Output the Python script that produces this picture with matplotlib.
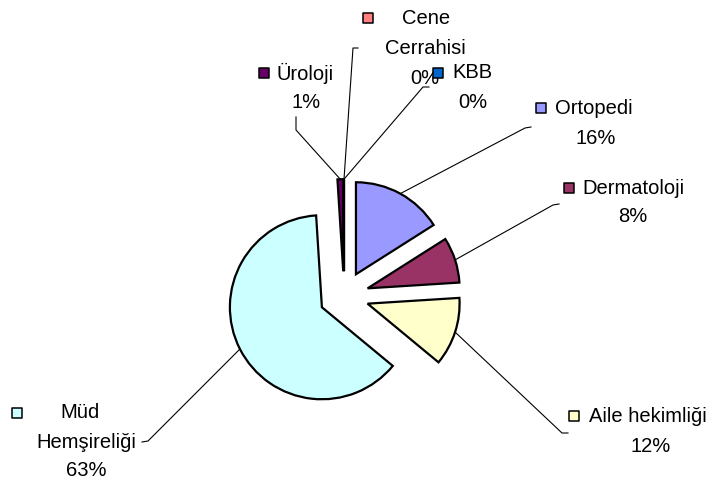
import math
import matplotlib
matplotlib.use("Agg")
import matplotlib.pyplot as plt

plt.rcParams['font.family'] = ['Liberation Sans', 'DejaVu Sans']

# data
categories = ["Ortopedi", "Dermatoloji", "Aile hekimliği", "Müd Hemşireliği",
              "Üroloji", "Cene Cerrahisi", "KBB"]
values = [16, 8, 12, 63, 1, 0, 0]
colors = ["#9999FF", "#993366", "#FFFFCC", "#CCFFFF", "#660066", "#FF8080", "#0066CC"]

W, H = 713, 492

fig = plt.figure(figsize=(W / 100, H / 100), dpi=100)
ax = fig.add_axes([0, 0, 1, 1])

R = 92
wedges, _ = ax.pie(values, colors=colors, startangle=90, counterclock=False,
                   radius=R, center=(344, H - 296), explode=[24.8] * len(values),
                   wedgeprops=dict(edgecolor="black", linewidth=1.6))
ax.set_xlim(0, W)
ax.set_ylim(0, H)
ax.set_aspect("equal")
ax.axis("off")

def sy(y):
    return H - y

total = sum(values)
pcts = ["%d%%" % round(v * 100 / total) for v in values]

# label layout (screen coords): marker, first line (left aligned), other lines (centered)
layout = {
    "Ortopedi": dict(mk=(541, 108), first=(555, 108, "Ortopedi"),
                     rest=[(596, 138)], leader=[(525, 128), (531, 127)]),
    "Dermatoloji": dict(mk=(569, 188), first=(582, 188, "Dermatoloji"),
                        rest=[(633, 216)], leader=[(553, 205), (559, 204)]),
    "Aile hekimliği": dict(mk=(574, 416), first=(589, 416, "Aile hekimliği"),
                           rest=[(651, 446)], leader=[(562, 433), (568, 433)]),
    "Müd Hemşireliği": dict(mk=(17, 413), first=None,
                            rest=[(80, 413, "Müd"), (86, 442, "Hemşireliği"), (86, 471)],
                            leader=[(148, 441), (142, 442)]),
    "Üroloji": dict(mk=(264, 73), first=(277, 73, "Üroloji"),
                    rest=[(306, 103)], leader=[(296, 130), (296, 117)]),
    "Cene Cerrahisi": dict(mk=(368, 18), first=(402, 18, "Cene"),
                           rest=[(425, 48, "Cerrahisi"), (425, 78)],
                           leader=[(353, 48), (358, 48)]),
    "KBB": dict(mk=(438, 73), first=(452, 73, "KBB"),
                rest=[(473, 103)], leader=[(423, 87), (429, 87)]),
}

fs = 14.5
for w, cat, col, pct in zip(wedges, categories, colors, pcts):
    L = layout[cat]
    # leader line from the arc midpoint of the exploded slice
    mid = math.radians((w.theta1 + w.theta2) / 2)
    cx, cy = w.center
    x0 = cx + w.r * math.cos(mid)
    y0 = cy + w.r * math.sin(mid)
    xs = [x0] + [p[0] for p in L["leader"]]
    ys = [y0] + [sy(p[1]) for p in L["leader"]]
    ax.plot(xs, ys, color="black", lw=0.8, zorder=1)

    ax.scatter([L["mk"][0]], [sy(L["mk"][1])], marker="s", s=62, c=col,
               edgecolors="black", linewidths=1.1, zorder=5)
    if L["first"]:
        fx, fy, ft = L["first"]
        ax.text(fx, sy(fy), ft, fontsize=fs, ha="left", va="center")
    for item in L["rest"]:
        txt = item[2] if len(item) > 2 else pct
        ax.text(item[0], sy(item[1]), txt, fontsize=fs, ha="center", va="center")

fig.savefig("out.png", dpi=100)
